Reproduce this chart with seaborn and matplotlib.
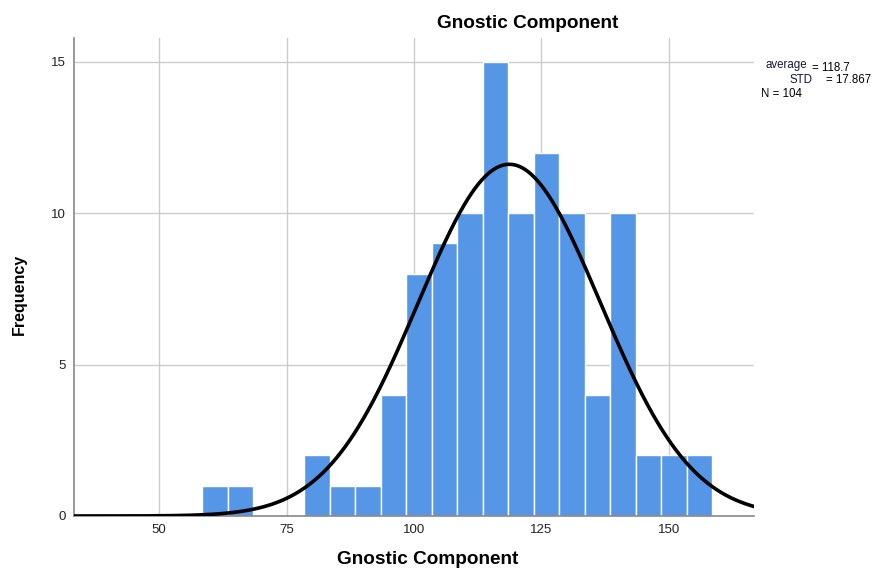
import numpy as np
import pandas as pd
import matplotlib
matplotlib.use("Agg")
import matplotlib.pyplot as plt
import seaborn as sns

# Data
bin_edges = [58.5, 63.5, 68.5, 73.5, 78.5, 83.5, 88.5, 93.5, 98.5, 103.5, 108.5,
             113.5, 118.5, 123.5, 128.5, 133.5, 138.5, 143.5, 148.5, 153.5, 158.5]
counts = [1, 1, 0, 0, 2, 1, 1, 4, 8, 9, 10, 15, 10, 12, 10, 4, 10, 2, 2, 2]
mean_val = 118.7
std_val = 17.867
n_val = 104
x_ticks = [50, 75, 100, 125, 150]
y_ticks = [0, 5, 10, 15]
title = "Gnostic Component"
x_label = "Gnostic Component"
y_label = "Frequency"

sns.set_theme(style="white")
plt.rcParams['font.family'] = ['Liberation Sans', 'DejaVu Sans']
plt.rcParams['text.color'] = 'black'

centers = [(a + b) / 2 for a, b in zip(bin_edges[:-1], bin_edges[1:])]
df = pd.DataFrame({"value": centers, "count": counts})

fig = plt.figure(figsize=(8.84, 5.69), dpi=100)
ax = fig.add_axes([74 / 884, 1 - 516 / 569, (754 - 74) / 884, (516 - 38) / 569])

sns.histplot(data=df, x="value", weights="count", bins=bin_edges, ax=ax,
             color="#5596e6", alpha=1.0, edgecolor="white", linewidth=1.0, zorder=2)

bw = bin_edges[1] - bin_edges[0]
xs = np.linspace(33.3, 166.7, 600)
ys = n_val * bw * np.exp(-0.5 * ((xs - mean_val) / std_val) ** 2) / (std_val * np.sqrt(2 * np.pi))
sns.lineplot(x=xs, y=ys, ax=ax, color="black", linewidth=2.6, zorder=3)

ax.set_xlim(33.3, 166.7)
ax.set_ylim(0, 15.78)
ax.set_xticks(x_ticks)
ax.set_yticks(y_ticks)
ax.tick_params(axis="both", labelsize=9.5, colors="#222222", length=0, pad=6)
ax.grid(True, color="#cccccc", linewidth=1.0, zorder=0)
ax.set_axisbelow(True)
for s in ["top", "right"]:
    ax.spines[s].set_visible(False)
for s in ["left", "bottom"]:
    ax.spines[s].set_color("#888888")
    ax.spines[s].set_linewidth(1.2)

ax.set_xlabel("")
ax.set_ylabel("")
fig.text(428 / 884, 1 - 560 / 569, x_label, ha="center", va="center",
         fontsize=13.7, fontweight="bold")
fig.text(19 / 884, 1 - 294 / 569, y_label, ha="center", va="center",
         fontsize=11.5, fontweight="bold", rotation=90)

fig.text(528 / 884, 1 - 23 / 569, title, ha="center", va="center",
         fontsize=13.7, fontweight="bold")

fig.text(765 / 884, 1 - 65 / 569, "average", ha="left", va="center", fontsize=8.3, color="#15153a")
fig.text(812 / 884, 1 - 68 / 569, f"= {mean_val}", ha="left", va="center", fontsize=8.3)
fig.text(789 / 884, 1 - 80 / 569, "STD", ha="left", va="center", fontsize=8.3, color="#15153a")
fig.text(826 / 884, 1 - 80 / 569, f"= {std_val}", ha="left", va="center", fontsize=8.3)
fig.text(761 / 884, 1 - 94 / 569, f"N = {n_val}", ha="left", va="center", fontsize=8.3)

fig.savefig("out.png", dpi=100)
